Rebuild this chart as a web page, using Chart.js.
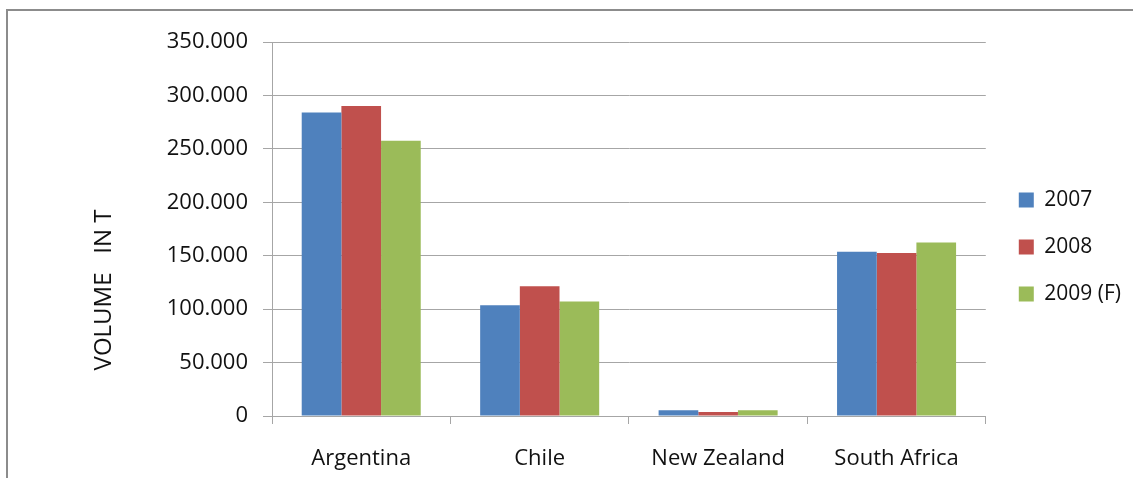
<!DOCTYPE html>
<html>
<head>
<meta charset="utf-8">
<script src="https://cdn.jsdelivr.net/npm/chart.js@4.4.1/dist/chart.umd.min.js"></script>
<style>
  html, body { margin: 0; padding: 0; background: #fff; }
  #wrap { position: relative; width: 1133px; height: 478px; overflow: hidden; }
  #frame {
    position: absolute; left: 6px; top: 9px; width: 1200px; height: 600px;
    border-top: 2px solid #8c8c8c; border-left: 2px solid #8c8c8c;
  }
  canvas { position: absolute; left: 0; top: 0; }
</style>
</head>
<body>
<div id="wrap">
  <div id="frame"></div>
  <canvas id="chart" width="1133" height="478"></canvas>
</div>
<script>
// Data
const categories = ['Argentina', 'Chile', 'New Zealand', 'South Africa'];
const series2007 = [284000, 103600, 5300, 153700];
const series2008 = [290000, 121400, 3800, 152500];
const series2009 = [257500, 107100, 5300, 162300];
const seriesNames = ['2007', '2008', '2009 (F)'];
const axisTitle = 'VOLUME   IN T';

const FONT = 'Open Sans';
const GRID = '#a6a6a6';

// 350000 -> "350.000"
function dotThousands(v) {
  return String(v).replace(/\B(?=(\d{3})+(?!\d))/g, '.');
}

// Rotated axis title, placed like the Excel original (below the plot centre)
const yTitlePlugin = {
  id: 'yTitle',
  afterDraw(chart, args, opts) {
    const ctx = chart.ctx;
    ctx.save();
    ctx.translate(opts.x, opts.y);
    ctx.rotate(-Math.PI / 2);
    ctx.font = `${opts.size}px "${FONT}"`;
    ctx.fillStyle = '#111';
    ctx.textAlign = 'center';
    ctx.textBaseline = 'middle';
    ctx.fillText(opts.text, 0, 0);
    ctx.restore();
  }
};

const ctx = document.getElementById('chart').getContext('2d');

new Chart(ctx, {
  type: 'bar',
  data: {
    labels: categories,
    datasets: [
      { label: seriesNames[0], data: series2007, backgroundColor: '#4f81bd' },
      { label: seriesNames[1], data: series2008, backgroundColor: '#c0504d' },
      { label: seriesNames[2], data: series2009, backgroundColor: '#9bbb59' }
    ]
  },
  options: {
    responsive: false,
    animation: false,
    layout: { padding: { left: 0, right: 2, top: 42, bottom: 0 } },
    datasets: {
      bar: { categoryPercentage: 0.667, barPercentage: 1.0 }
    },
    scales: {
      x: {
        afterFit: (scale) => { scale.height = 62; },
        grid: {
          display: true, drawOnChartArea: false, drawTicks: true,
          tickLength: 8, color: GRID, offset: true
        },
        border: { display: true, color: GRID },
        ticks: { color: '#111', padding: 22, font: { family: FONT, size: 22 } }
      },
      y: {
        min: 0, max: 350000,
        afterFit: (scale) => { scale.width = 272; },
        grid: { color: GRID, tickLength: 9, drawTicks: true },
        border: { display: true, color: GRID },
        ticks: {
          stepSize: 50000, padding: 15, color: '#111',
          font: { family: FONT, size: 22 },
          callback: (v) => dotThousands(v)
        }
      },
      gap: {
        // empty spacer between the plot and the legend
        position: 'right', display: true,
        grid: { display: false }, border: { display: false },
        ticks: { display: false },
        afterFit: (scale) => { scale.width = 7; }
      }
    },
    plugins: {
      legend: {
        position: 'right',
        fullSize: false,
        title: { display: true, text: '', padding: 6, font: { family: FONT, size: 20 } },
        labels: {
          boxWidth: 15, boxHeight: 15, padding: 26, color: '#111',
          font: { family: FONT, size: 21 }
        }
      },
      tooltip: { enabled: false },
      yTitle: { text: axisTitle, x: 104, y: 290, size: 24 }
    }
  },
  plugins: [yTitlePlugin]
});
</script>
</body>
</html>
